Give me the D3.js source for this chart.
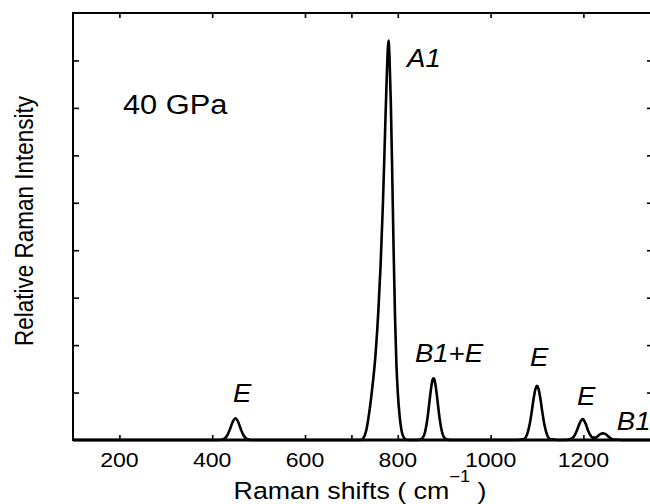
<!DOCTYPE html>
<html><head><meta charset="utf-8">
<script src="https://cdn.jsdelivr.net/npm/d3@7"></script>
<style>body{margin:0;background:#fff} svg{display:block}</style>
</head><body><svg id="c" width="650" height="504"></svg>
<script>
const shift = [100, 400, 415, 425, 432, 438, 444, 450, 456, 462, 468, 475, 485,
  720, 725, 732, 738, 745, 752, 758, 763, 768, 772, 776, 780, 782, 785, 788, 791, 794, 797, 800, 804, 808, 813, 820,
  840, 848, 854, 859, 864, 868, 872, 875, 877, 879, 882, 886, 890, 895, 900, 906, 914,
  1055, 1065, 1072, 1078, 1084, 1089, 1093, 1097, 1100, 1103, 1107, 1111, 1116, 1122, 1128, 1136, 1145,
  1160, 1172, 1180, 1186, 1191, 1195, 1198, 1201, 1205, 1210, 1215, 1220, 1226, 1232, 1237, 1242, 1247, 1253, 1260, 1268, 1280, 1350];
// Relative Raman intensity (arbitrary units, one unit per y tick)
const intensity = [0, 0, 0, 0.02, 0.09, 0.22, 0.38, 0.46, 0.38, 0.22, 0.09, 0.02, 0,
  0, 0.03, 0.2, 0.55, 1.1, 1.8, 2.7, 3.7, 5.0, 6.3, 7.6, 8.42, 8.1, 7.1, 5.6, 4.0, 2.6, 1.6, 1.0, 0.5, 0.2, 0.05, 0,
  0, 0.01, 0.05, 0.18, 0.46, 0.79, 1.11, 1.27, 1.30, 1.27, 1.11, 0.79, 0.46, 0.18, 0.05, 0.01, 0,
  0, 0.01, 0.02, 0.10, 0.32, 0.62, 0.89, 1.09, 1.14, 1.09, 0.89, 0.62, 0.32, 0.10, 0.02, 0.01, 0,
  0, 0.02, 0.08, 0.2, 0.33, 0.41, 0.44, 0.42, 0.34, 0.2, 0.1, 0.05, 0.05, 0.09, 0.13, 0.14, 0.13, 0.08, 0.03, 0.01, 0, 0];

const xTicks = [200, 400, 600, 800, 1000, 1200];
const xExtraTicks = [700];
const yTicks = [1, 2, 3, 4, 5, 6, 7, 8];
const peakNames = ["A1", "B1+E", "E", "E", "E", "B1"];
const peakNameShift = [820, 837, 1085, 445, 1186, 1272];
const peakNameLevel = [7.86, 1.64, 1.56, 0.80, 0.74, 0.21];
const pressureLabel = "40 GPa";

const svg = d3.select("#c");
const M = {l: 73, r: 653, t: 13, b: 440};
const x = d3.scaleLinear().domain([100, 1350]).range([M.l, M.r]);
const y = d3.scaleLinear().domain([0, 9]).range([M.b, M.t]);
const FONT = "'Liberation Sans', Arial, Helvetica, sans-serif";
const SX = 1.1;

// axes with inward ticks
const allX = xTicks.concat(xExtraTicks);
function styleAxis(g){
  g.select(".domain").remove();
  g.selectAll("text").remove();
  g.selectAll("line").attr("stroke", "#000").attr("stroke-width", 1.6);
}
svg.append("g").attr("transform", `translate(0,${M.b})`)
  .call(d3.axisBottom(x).tickValues(allX).tickSizeInner(-5).tickSizeOuter(0)).call(styleAxis);
svg.append("g").attr("transform", `translate(0,${M.t})`)
  .call(d3.axisTop(x).tickValues(allX).tickSizeInner(-5).tickSizeOuter(0)).call(styleAxis);
svg.append("g").attr("transform", `translate(${M.l},0)`)
  .call(d3.axisLeft(y).tickValues(yTicks).tickSizeInner(-6).tickSizeOuter(0)).call(styleAxis);
svg.append("g").attr("transform", `translate(${M.r},0)`)
  .call(d3.axisRight(y).tickValues(yTicks).tickSizeInner(-6).tickSizeOuter(0)).call(styleAxis);

// frame
svg.append("rect").attr("x", M.l).attr("y", M.t)
  .attr("width", M.r - M.l).attr("height", M.b - M.t)
  .attr("fill", "none").attr("stroke", "#000").attr("stroke-width", 2);
svg.append("line").attr("x1", M.l).attr("x2", M.r).attr("y1", M.b).attr("y2", M.b)
  .attr("stroke", "#000").attr("stroke-width", 3);

// spectrum
const pts = shift.map((s, i) => [s, intensity[i]]);
svg.append("path").datum(pts)
  .attr("fill", "none").attr("stroke", "#000").attr("stroke-width", 2.6)
  .attr("stroke-linejoin", "round")
  .attr("d", d3.line().x(d => x(d[0])).y(d => y(d[1])).curve(d3.curveMonotoneX));

// tick labels
svg.selectAll(".xl").data(xTicks).enter().append("text")
  .attr("transform", d => `translate(${x(d)},467) scale(${SX},1)`)
  .attr("text-anchor", "middle").attr("font-family", FONT).attr("font-size", 21)
  .attr("fill", "#000").text(d => d);

// x title
const xt = svg.append("text").attr("transform", `translate(360,499) scale(1.14,1)`)
  .attr("text-anchor", "middle").attr("font-family", FONT).attr("font-size", 23.5).attr("fill", "#000");
xt.append("tspan").text("Raman shifts ( cm");
xt.append("tspan").attr("font-size", 16).attr("dy", -17).text("−1");
xt.append("tspan").attr("dy", 17).text(" )");

// y title
svg.append("text").attr("transform", `translate(33,221) rotate(-90) scale(1,1.15)`)
  .attr("text-anchor", "middle").attr("font-family", FONT).attr("font-size", 22.5)
  .attr("fill", "#000").text("Relative Raman Intensity");

// pressure label
svg.append("text").attr("transform", `translate(123,114) scale(${SX},1)`)
  .attr("font-family", FONT).attr("font-size", 28).attr("fill", "#000").text(pressureLabel);

// peak assignment labels
svg.selectAll(".pl").data(peakNames).enter().append("text")
  .attr("transform", (d, i) => `translate(${x(peakNameShift[i])},${y(peakNameLevel[i])}) scale(${SX},1)`)
  .attr("font-family", FONT).attr("font-size", 25).attr("font-style", "italic")
  .attr("fill", "#000").text(d => d);
</script>
</body></html>
